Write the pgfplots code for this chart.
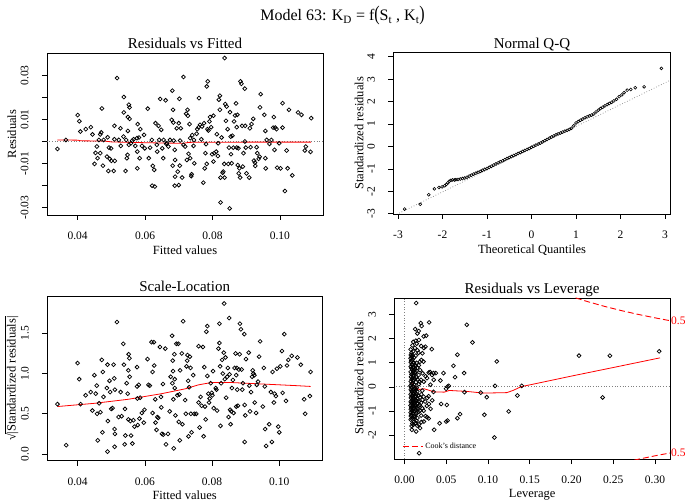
\documentclass[border=0pt]{standalone}
\usepackage{graphicx}
\usepackage{pgfplots}
\pgfplotsset{compat=1.18}
\usepackage{fontspec}
\setmainfont{Liberation Serif}
\pgfplotsset{
 rplot/.style={
  scale only axis, anchor=south west,
  scaled ticks=false,
  axis line style={line width=0.75pt, black},
  tick align=outside, xtick pos=left, ytick pos=left,
  major tick length=5pt,
  every tick/.style={black, line width=0.6pt},
  /pgf/number format/assume math mode=true,
  ticklabel style={font=\fontsize{11.5}{12}\selectfont},
  yticklabel style={rotate=90, anchor=base},
  yticklabel shift=13.5pt,
  xticklabel shift=8.5pt,
  every axis title/.style={at={(0.5,1)}, anchor=base, yshift=4pt, font=\fontsize{15}{16}\selectfont},
  every axis x label/.style={anchor=base, font=\fontsize{12.5}{13}\selectfont},
  every axis y label/.style={rotate=90, anchor=base, font=\fontsize{12.5}{13}\selectfont},
 },
 pts/.style={only marks, mark=o, mark size=1.95pt, mark options={black, line width=0.75pt}, forget plot},
 redl/.style={red, line width=0.8pt, no markers, forget plot},
 refl/.style={gray, dotted, line width=0.7pt, no markers, forget plot},
}
\begin{document}
\begin{tikzpicture}[x=1pt,y=1pt]
\useasboundingbox (0,0) rectangle (685,503);
\node[anchor=base, font=\fontsize{16}{18}\selectfont] at (342.5,482) {Model 63: K\textsubscript{D} = f\scalebox{1}[1.3]{(}S\textsubscript{t} , K\textsubscript{t}\scalebox{1}[1.3]{)}};

% ---------------- Residuals vs Fitted
\begin{axis}[rplot, at={(47pt,288pt)}, width=276pt, height=162pt,
  xmin=0.0309, xmax=0.1128, ymin=-0.0334, ymax=0.0402,
  xtick={0.04,0.06,0.08,0.10}, xticklabels={0.04,0.06,0.08,0.10},
  ytick={-0.03,-0.02,-0.01,0,0.01,0.02,0.03}, yticklabels={-0.03,{},-0.01,{},0.01,{},0.03},
  title={Residuals vs Fitted}, xlabel={Fitted values}, ylabel={Residuals},
  xlabel style={at={(axis description cs:0.5,-0.244)}},
  ylabel style={at={(axis description cs:-0.112,0.5)}}]
\addplot[refl] coordinates {(0.03,0) (0.115,0)};
\addplot[pts] table {
x y
0.0340 -0.0034
0.0365 0.0007
0.0400 0.0120
0.0405 0.0092
0.0408 0.0045
0.0424 0.0056
0.0439 0.0065
0.0444 0.0032
0.0450 -0.0102
0.0453 -0.0052
0.0457 -0.0023
0.0459 -0.0076
0.0463 0.0007
0.0467 0.0032
0.0472 0.0150
0.0470 0.0041
0.0467 -0.0053
0.0475 -0.0110
0.0477 0.0007
0.0487 -0.0069
0.0489 0.0019
0.0491 -0.0134
0.0493 -0.0028
0.0495 -0.0079
0.0499 -0.0031
0.0500 -0.0088
0.0507 -0.0134
0.0509 0.0071
0.0509 0.0010
0.0510 -0.0088
0.0517 0.0288
0.0522 0.0007
0.0528 -0.0020
0.0527 0.0060
0.0537 0.0202
0.0537 0.0132
0.0536 0.0022
0.0542 -0.0134
0.0544 0.0007
0.0546 -0.0076
0.0548 -0.0061
0.0549 0.0111
0.0552 0.0167
0.0554 0.0155
0.0554 0.0103
0.0549 0.0048
0.0552 -0.0015
0.0558 -0.0008
0.0562 0.0004
0.0566 0.0010
0.0571 -0.0020
0.0576 0.0015
0.0578 0.0079
0.0577 -0.0046
0.0577 -0.0122
0.0582 0.0018
0.0586 0.0056
0.0584 -0.0076
0.0591 -0.0020
0.0597 0.0030
0.0599 -0.0031
0.0608 0.0149
0.0611 -0.0076
0.0615 -0.0028
0.0621 -0.0201
0.0629 -0.0205
0.0623 -0.0111
0.0627 -0.0129
0.0620 0.0007
0.0631 0.0083
0.0635 -0.0015
0.0636 -0.0046
0.0640 0.0071
0.0642 0.0007
0.0645 0.0193
0.0648 0.0053
0.0651 -0.0031
0.0654 -0.0076
0.0655 0.0007
0.0661 0.0187
0.0663 -0.0011
0.0665 -0.0008
0.0669 -0.0023
0.0674 0.0007
0.0679 0.0098
0.0681 0.0231
0.0683 0.0144
0.0684 0.0086
0.0682 -0.0110
0.0685 0.0004
0.0688 -0.0038
0.0689 -0.0084
0.0689 -0.0160
0.0688 -0.0201
0.0694 0.0060
0.0697 -0.0137
0.0700 -0.0198
0.0702 0.0194
0.0700 0.0083
0.0703 -0.0110
0.0704 0.0004
0.0706 0.0060
0.0710 -0.0164
0.0714 0.0293
0.0714 -0.0015
0.0719 -0.0023
0.0722 0.0126
0.0726 0.0144
0.0727 0.0117
0.0724 -0.0084
0.0729 -0.0056
0.0732 0.0079
0.0734 0.0015
0.0734 -0.0076
0.0737 -0.0157
0.0738 -0.0149
0.0740 0.0029
0.0744 -0.0020
0.0745 0.0007
0.0746 -0.0099
0.0753 0.0035
0.0755 0.0056
0.0760 0.0197
0.0759 0.0065
0.0763 0.0076
0.0767 0.0010
0.0769 0.0068
0.0773 -0.0187
0.0775 0.0083
0.0777 -0.0122
0.0779 -0.0053
0.0781 -0.0012
0.0783 -0.0102
0.0783 0.0250
0.0786 0.0273
0.0785 0.0056
0.0788 0.0050
0.0791 0.0091
0.0793 0.0111
0.0796 0.0065
0.0799 -0.0058
0.0803 0.0117
0.0803 -0.0091
0.0805 -0.0053
0.0811 -0.0046
0.0813 0.0033
0.0816 -0.0066
0.0817 -0.0008
0.0819 0.0190
0.0822 0.0208
0.0822 0.0144
0.0824 -0.0164
0.0824 -0.0277
0.0827 0.0018
0.0830 -0.0142
0.0832 -0.0137
0.0835 -0.0102
0.0836 0.0379
0.0836 -0.0164
0.0838 0.0170
0.0840 0.0094
0.0842 0.0159
0.0845 0.0056
0.0847 -0.0102
0.0849 -0.0028
0.0851 -0.0304
0.0852 0.0133
0.0854 0.0022
0.0855 -0.0058
0.0857 -0.0099
0.0859 0.0026
0.0862 -0.0028
0.0864 0.0091
0.0867 0.0118
0.0870 0.0173
0.0872 0.0065
0.0872 -0.0028
0.0874 0.0121
0.0875 -0.0107
0.0877 -0.0031
0.0878 -0.0145
0.0880 -0.0122
0.0882 -0.0164
0.0883 0.0273
0.0886 0.0262
0.0888 0.0071
0.0890 -0.0114
0.0892 -0.0053
0.0896 0.0240
0.0897 0.0071
0.0896 0.0000
0.0899 -0.0028
0.0901 -0.0145
0.0909 -0.0164
0.0911 0.0060
0.0913 -0.0026
0.0916 0.0079
0.0921 0.0103
0.0923 -0.0087
0.0926 -0.0096
0.0927 -0.0111
0.0931 -0.0026
0.0933 -0.0053
0.0937 -0.0079
0.0940 -0.0069
0.0941 0.0155
0.0943 0.0215
0.0954 0.0121
0.0957 0.0048
0.0957 -0.0076
0.0958 -0.0122
0.0961 0.0007
0.0969 -0.0011
0.0975 0.0007
0.0980 0.0063
0.0982 0.0111
0.0984 -0.0038
0.0986 0.0063
0.0990 0.0056
0.0992 -0.0119
0.0998 -0.0008
0.1002 -0.0122
0.1008 0.0174
0.1008 0.0063
0.1015 -0.0225
0.1020 -0.0041
0.1023 -0.0122
0.1027 0.0144
0.1037 -0.0154
0.1054 0.0132
0.1064 0.0121
0.1074 -0.0041
0.1077 -0.0023
0.1091 -0.0047
0.1093 0.0106
};
\addplot[redl] coordinates {(0.0340,0.0007) (0.0400,0.0006) (0.0410,0.0003) (0.0480,0.0002) (0.0500,-0.0002) (0.0550,-0.0004) (0.0650,-0.0007) (0.0715,-0.0008) (0.0730,-0.0004) (0.0900,-0.0003) (0.1093,-0.0003)};
\end{axis}

% ---------------- Normal Q-Q
\begin{axis}[rplot, at={(393.3pt,289pt)}, width=277.4pt, height=161.3pt,
  xmin=-3.105, xmax=3.128, ymin=-3.01, ymax=4.18,
  xtick={-3,-2,-1,0,1,2,3}, xticklabels={-3,-2,-1,0,1,2,3},
  ytick={-3,-2,-1,0,1,2,3,4}, yticklabels={-3,-2,-1,0,1,2,3,4},
  title={Normal Q-Q}, xlabel={Theoretical Quantiles}, ylabel={Standardized residuals},
  xlabel style={at={(axis description cs:0.5,-0.248)}},
  ylabel style={at={(axis description cs:-0.108,0.5)}}]
\addplot[refl] coordinates {(-3.3,-3.29) (3.3,3.13)};
\addplot[pts, mark size=1.45pt, mark options={black, line width=0.6pt}] table {
x y
-2.85 -2.79
-2.50 -2.58
-2.31 -2.15
-2.18 -1.89
-2.08 -1.83
-2.01 -1.80
-1.95 -1.75
-1.91 -1.69
-1.88 -1.62
-1.85 -1.55
-1.81 -1.51
-1.77 -1.49
-1.73 -1.49
-1.70 -1.48
-1.65 -1.47
-1.60 -1.45
-1.55 -1.43
-1.50 -1.41
-1.45 -1.37
-1.40 -1.32
-1.35 -1.28
-1.30 -1.23
-1.25 -1.19
-1.20 -1.15
-1.15 -1.11
-1.10 -1.06
-1.05 -1.02
-1.00 -0.98
-0.95 -0.93
-0.90 -0.88
-0.85 -0.83
-0.80 -0.78
-0.75 -0.73
-0.70 -0.68
-0.65 -0.64
-0.60 -0.59
-0.55 -0.54
-0.50 -0.49
-0.45 -0.45
-0.40 -0.40
-0.35 -0.36
-0.30 -0.31
-0.25 -0.27
-0.20 -0.22
-0.15 -0.18
-0.10 -0.13
-0.05 -0.09
0.00 -0.04
0.05 0.01
0.10 0.06
0.15 0.11
0.20 0.15
0.25 0.20
0.30 0.26
0.35 0.31
0.40 0.37
0.45 0.42
0.50 0.47
0.55 0.52
0.60 0.56
0.65 0.60
0.70 0.64
0.75 0.68
0.80 0.72
0.85 0.76
0.90 0.81
0.95 0.92
1.00 1.05
1.05 1.11
1.10 1.17
1.15 1.22
1.20 1.28
1.25 1.32
1.30 1.36
1.35 1.40
1.40 1.45
1.45 1.54
1.50 1.62
1.55 1.69
1.60 1.75
1.65 1.81
1.70 1.87
1.75 1.92
1.80 1.97
1.85 2.03
1.91 2.10
1.97 2.22
2.03 2.30
2.08 2.40
2.15 2.51
2.23 2.54
2.33 2.62
2.53 2.66
2.92 3.48
};
\end{axis}

% ---------------- Scale-Location
\begin{axis}[rplot, at={(47pt,42.3pt)}, width=275.3pt, height=164.7pt,
  xmin=0.0309, xmax=0.1128, ymin=-0.083, ymax=1.964,
  xtick={0.04,0.06,0.08,0.10}, xticklabels={0.04,0.06,0.08,0.10},
  ytick={0,0.5,1,1.5}, yticklabels={0.0,0.5,1.0,1.5},
  title={Scale-Location}, xlabel={Fitted values},
  ylabel={√\kern-0.4pt$\overline{\mbox{|Standardized residuals|}}$},
  xlabel style={at={(axis description cs:0.5,-0.233)}},
  ylabel style={at={(axis description cs:-0.1144,0.5)}}]
\addplot[pts] table {
x y
0.0340 0.62
0.0366 0.11
0.0400 1.13
0.0405 0.93
0.0409 0.62
0.0424 0.73
0.0439 0.77
0.0444 0.54
0.0450 0.98
0.0454 0.75
0.0457 0.85
0.0458 0.50
0.0460 0.17
0.0464 0.63
0.0468 0.52
0.0472 1.17
0.0474 0.27
0.0475 1.02
0.0477 0.71
0.0487 0.82
0.0489 1.11
0.0490 0.41
0.0489 0.03
0.0495 0.91
0.0497 0.77
0.0500 0.56
0.0504 0.57
0.0507 1.11
0.0509 0.94
0.0510 0.31
0.0511 0.25
0.0510 0.09
0.0511 0.80
0.0517 1.64
0.0522 0.46
0.0528 0.77
0.0531 0.47
0.0536 1.37
0.0538 1.11
0.0541 0.56
0.0542 0.23
0.0540 0.12
0.0546 0.88
0.0549 0.75
0.0551 1.04
0.0552 1.24
0.0554 1.19
0.0555 0.96
0.0551 0.43
0.0557 0.41
0.0559 0.23
0.0563 0.13
0.0566 0.42
0.0569 0.34
0.0577 1.08
0.0577 0.84
0.0578 0.69
0.0579 0.36
0.0582 0.86
0.0584 0.44
0.0586 0.70
0.0591 0.51
0.0597 0.39
0.0599 0.55
0.0608 1.18
0.0611 0.86
0.0615 0.85
0.0620 1.39
0.0627 1.39
0.0623 1.02
0.0628 1.10
0.0623 0.51
0.0631 0.68
0.0632 0.39
0.0635 0.30
0.0637 0.46
0.0640 0.45
0.0645 1.33
0.0648 0.71
0.0649 0.58
0.0651 0.25
0.0654 0.87
0.0655 0.24
0.0661 1.31
0.0663 0.12
0.0669 0.25
0.0674 0.53
0.0677 0.96
0.0681 1.47
0.0683 1.16
0.0684 1.03
0.0682 0.88
0.0685 0.68
0.0686 0.07
0.0688 1.24
0.0689 0.93
0.0689 0.82
0.0691 0.48
0.0694 1.37
0.0697 0.73
0.0700 1.37
0.0701 0.40
0.0703 0.74
0.0704 0.17
0.0705 1.04
0.0710 1.25
0.0712 0.37
0.0714 1.65
0.0720 0.67
0.0722 0.50
0.0724 1.09
0.0726 1.16
0.0727 1.23
0.0729 0.91
0.0730 0.22
0.0732 0.83
0.0734 1.21
0.0736 1.07
0.0737 0.50
0.0739 0.27
0.0744 0.98
0.0747 0.50
0.0753 0.50
0.0760 1.34
0.0760 0.64
0.0763 0.33
0.0766 0.71
0.0769 0.60
0.0773 1.33
0.0775 0.22
0.0777 1.08
0.0779 0.59
0.0781 0.43
0.0783 1.52
0.0786 1.59
0.0786 0.97
0.0789 0.75
0.0791 0.64
0.0793 0.69
0.0796 0.88
0.0799 0.76
0.0801 0.73
0.0803 1.03
0.0805 0.57
0.0811 0.82
0.0813 0.80
0.0815 0.54
0.0819 1.31
0.0822 1.38
0.0822 1.62
0.0824 1.09
0.0825 0.35
0.0827 0.88
0.0830 1.17
0.0832 1.00
0.0835 1.26
0.0836 1.87
0.0838 0.93
0.0840 1.20
0.0842 0.70
0.0845 0.96
0.0847 1.07
0.0849 0.46
0.0851 1.69
0.0852 0.99
0.0854 0.55
0.0855 0.37
0.0857 0.53
0.0859 0.82
0.0862 0.92
0.0864 0.51
0.0867 1.07
0.0870 1.25
0.0872 0.98
0.0872 0.59
0.0874 1.07
0.0875 0.80
0.0877 0.60
0.0880 1.05
0.0882 1.24
0.0883 1.62
0.0886 1.55
0.0888 1.05
0.0890 0.80
0.0892 0.88
0.0896 1.49
0.0897 0.15
0.0897 0.61
0.0899 0.48
0.0901 1.18
0.0909 1.26
0.0911 0.85
0.0913 0.53
0.0916 0.77
0.0919 0.96
0.0921 1.04
0.0923 1.00
0.0926 0.98
0.0927 0.64
0.0931 0.51
0.0933 0.86
0.0937 0.90
0.0940 1.21
0.0943 1.40
0.0951 0.59
0.0954 1.07
0.0957 0.84
0.0958 0.31
0.0961 0.10
0.0970 0.37
0.0975 0.77
0.0978 0.15
0.0980 1.02
0.0984 0.64
0.0986 0.75
0.0990 0.72
0.0993 1.06
0.0997 0.34
0.1000 0.27
0.1003 1.09
0.1008 1.28
0.1010 0.76
0.1015 1.49
0.1020 0.66
0.1023 1.10
0.1027 1.17
0.1037 1.22
0.1054 1.20
0.1064 1.11
0.1074 0.68
0.1077 0.50
0.1091 0.72
0.1093 1.02
};
\addplot[redl] coordinates {(0.0340,0.59) (0.0450,0.63) (0.0550,0.68) (0.0650,0.75) (0.0720,0.81) (0.0760,0.86) (0.0800,0.89) (0.0850,0.89) (0.0900,0.88) (0.0950,0.87) (0.1000,0.86) (0.1050,0.85) (0.1093,0.84)};
\end{axis}

% ---------------- Residuals vs Leverage
\begin{axis}[rplot, at={(394.3pt,44pt)}, width=275.7pt, height=161pt,
  xmin=-0.0122, xmax=0.318, ymin=-2.99, ymax=3.68,
  xtick={0,0.05,0.10,0.15,0.20,0.25,0.30}, xticklabels={0.00,0.05,0.10,0.15,0.20,0.25,0.30},
  ytick={-3,-2,-1,0,1,2,3}, yticklabels={-3,-2,-1,0,1,2,3},
  title={Residuals vs Leverage}, xlabel={Leverage}, ylabel={Standardized residuals},
  xlabel style={at={(axis description cs:0.5,-0.242)}},
  ylabel style={at={(axis description cs:-0.112,0.5)}},
  legend style={at={(axis description cs:0.025,0.035)}, anchor=south west, draw=none, fill=none, font=\fontsize{8}{9}\selectfont, inner sep=1pt},
  legend image code/.code={\draw[#1] (0pt,0pt) -- (20pt,0pt);},
  after end axis/.code={
    \node[red, anchor=west, font=\fontsize{11.5}{12}\selectfont, inner sep=1pt] at (axis cs:0.318,2.74) {0.5};
    \node[red, anchor=west, font=\fontsize{11.5}{12}\selectfont, inner sep=1pt] at (axis cs:0.318,-2.74) {0.5};
  }]
\addplot[refl] coordinates {(-0.02,0) (0.33,0)};
\addplot[refl] coordinates {(0,-3.2) (0,3.9)};
\addplot[pts] table {
x y
0.0140 3.47
0.0195 2.64
0.0205 2.52
0.0128 2.39
0.0295 2.67
0.0260 2.12
0.0327 1.56
0.0307 0.61
0.0347 0.57
0.0375 0.57
0.0430 0.26
0.0467 0.57
0.0515 0.01
0.0530 0.04
0.0499 -0.08
0.0586 0.87
0.0606 0.40
0.0634 1.33
0.0714 0.57
0.0718 -0.22
0.0746 2.57
0.0814 1.84
0.0913 -0.24
0.0985 -0.43
0.0957 -1.16
0.1085 0.04
0.1105 1.05
0.1077 -2.10
0.1248 -1.02
0.1352 -0.36
0.1404 0.04
0.2090 1.29
0.2460 1.29
0.2373 -0.44
0.3050 1.47
0.0439 -0.71
0.0507 -0.75
0.0499 -1.44
0.0515 -1.40
0.0420 -1.51
0.0355 -1.78
0.0634 -1.30
0.0666 -1.13
0.0176 -2.75
0.0088 -1.78
0.0140 -1.85
0.0074 1.55
0.0076 1.32
0.0073 1.18
0.0077 1.02
0.0075 0.84
0.0074 0.62
0.0078 0.41
0.0075 0.22
0.0073 0.04
0.0076 -0.12
0.0074 -0.31
0.0077 -0.46
0.0075 -0.62
0.0073 -0.77
0.0076 -0.93
0.0074 -1.07
0.0077 -1.21
0.0075 -1.36
0.0084 1.41
0.0086 1.24
0.0083 1.09
0.0087 0.94
0.0085 0.76
0.0084 0.52
0.0086 0.31
0.0085 0.12
0.0083 -0.04
0.0087 -0.21
0.0084 -0.39
0.0086 -0.56
0.0085 -0.71
0.0083 -0.86
0.0087 -1.01
0.0084 -1.16
0.0086 -1.31
0.0085 -1.62
0.0095 1.72
0.0094 1.31
0.0097 1.14
0.0093 0.89
0.0096 0.71
0.0095 0.54
0.0094 0.36
0.0097 0.16
0.0093 -0.16
0.0096 -0.34
0.0095 -0.51
0.0094 -0.66
0.0097 -0.81
0.0093 -0.96
0.0096 -1.11
0.0095 -1.26
0.0094 -1.52
0.0105 1.86
0.0104 1.46
0.0107 1.01
0.0103 0.81
0.0106 0.64
0.0105 0.46
0.0104 0.26
0.0107 0.01
0.0103 -0.26
0.0106 -0.44
0.0105 -0.61
0.0104 -0.76
0.0107 -0.91
0.0103 -1.09
0.0106 -1.31
0.0105 -1.58
0.0115 1.21
0.0114 0.99
0.0117 0.69
0.0113 0.51
0.0116 0.29
0.0115 0.09
0.0114 -0.11
0.0117 -0.29
0.0113 -0.49
0.0116 -0.69
0.0115 -0.86
0.0114 -1.01
0.0117 -1.19
0.0113 -1.46
0.0125 1.61
0.0127 0.91
0.0123 0.74
0.0126 0.56
0.0124 0.34
0.0127 -0.06
0.0123 -0.21
0.0126 -0.41
0.0124 -0.64
0.0125 -0.81
0.0127 -0.99
0.0123 -1.24
0.0135 1.91
0.0134 1.29
0.0137 0.86
0.0133 0.61
0.0136 0.19
0.0135 -0.14
0.0134 -0.36
0.0137 -0.54
0.0133 -0.74
0.0136 -0.96
0.0135 -1.14
0.0134 -1.49
0.0146 1.79
0.0144 0.99
0.0147 0.66
0.0143 0.39
0.0145 -0.04
0.0146 -0.31
0.0144 -0.59
0.0147 -0.86
0.0143 -1.09
0.0145 -1.41
0.0155 2.21
0.0156 1.51
0.0154 0.79
0.0157 0.31
0.0153 -0.19
0.0156 -0.51
0.0154 -0.69
0.0157 -0.91
0.0155 -1.29
0.0153 -1.61
0.0170 2.31
0.0172 1.94
0.0168 1.41
0.0171 0.89
0.0169 0.49
0.0172 0.11
0.0168 -0.36
0.0171 -0.61
0.0169 -0.79
0.0170 -1.04
0.0172 -1.56
0.0185 1.04
0.0187 0.69
0.0183 0.21
0.0186 -0.44
0.0184 -0.76
0.0185 -0.99
0.0187 -1.71
0.0200 1.69
0.0202 1.11
0.0198 0.29
0.0201 -0.31
0.0199 -0.66
0.0200 -1.19
0.0202 -1.46
0.0215 1.39
0.0217 0.56
0.0213 -0.16
0.0216 -0.54
0.0214 -0.89
0.0230 2.09
0.0232 1.61
0.0228 1.04
0.0231 0.21
0.0229 -0.41
0.0230 -0.99
0.0232 -1.44
0.0250 1.66
0.0252 0.44
0.0248 -0.61
0.0251 -1.21
0.0270 0.36
0.0272 -0.46
0.0268 -0.79
0.0271 -1.26
0.0291 0.59
0.0289 -0.39
0.0292 -0.71
0.0290 -1.31
0.0310 0.09
0.0312 -0.91
0.0330 0.49
0.0332 -0.56
0.0350 0.29
0.0348 -0.21
};
\addplot[redl] coordinates {(0.0076,0.21) (0.0124,-0.01) (0.0176,-0.11) (0.0235,-0.08) (0.0355,-0.21) (0.0475,-0.22) (0.0535,-0.15) (0.0746,-0.19) (0.0945,-0.26) (0.1225,-0.24) (0.1300,-0.15) (0.1400,0.01) (0.1500,0.08) (0.2020,0.46) (0.2500,0.80) (0.3060,1.20)};
\addplot[red, dashed, line width=0.9pt, dash pattern=on 6pt off 3pt, no markers] coordinates {(0.205,3.684) (0.22,3.523) (0.24,3.329) (0.26,3.156) (0.28,3.0) (0.30,2.858) (0.318,2.740)};
\addlegendentry{Cook's distance}
\addplot[red, dashed, line width=0.9pt, dash pattern=on 6pt off 3pt, no markers, forget plot] coordinates {(0.275,-3.04) (0.28,-3.0) (0.30,-2.858) (0.318,-2.740)};
\end{axis}
\end{tikzpicture}
\end{document}
